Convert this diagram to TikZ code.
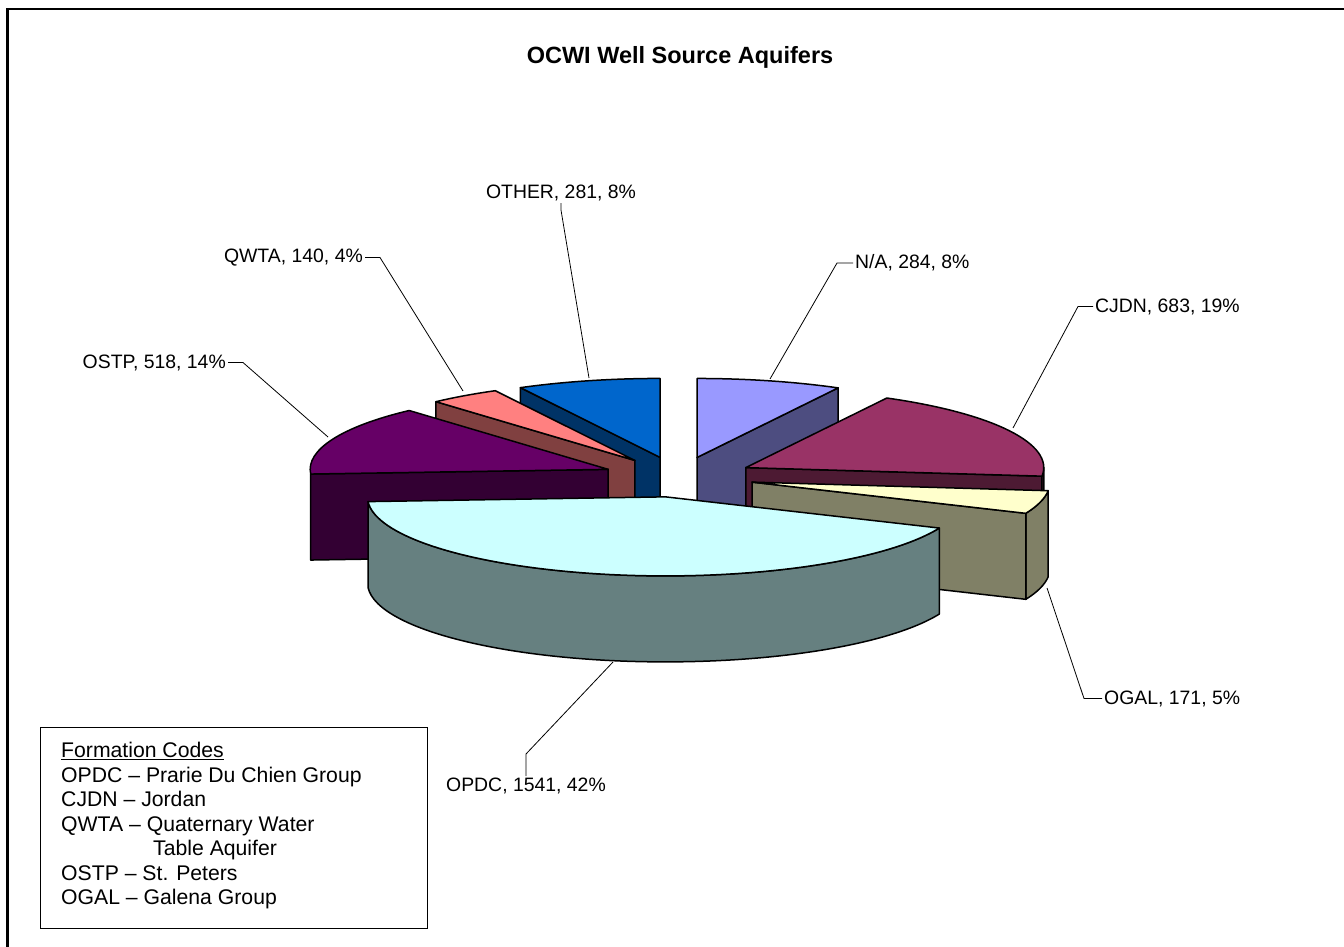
\documentclass[tikz,border=0pt]{standalone}
\usepackage{fontspec}
\setmainfont{Liberation Sans}
\usepackage{tikz}
\usetikzlibrary{positioning}
% slice colours: top face and the darker side face
\definecolor{naTop}{HTML}{9999FF}
\definecolor{naSide}{HTML}{4D4D80}
\definecolor{cjTop}{HTML}{993366}
\definecolor{cjSide}{HTML}{4D1A33}
\definecolor{ogTop}{HTML}{FFFFCC}
\definecolor{ogSide}{HTML}{808066}
\definecolor{opTop}{HTML}{CCFFFF}
\definecolor{opSide}{HTML}{668080}
\definecolor{osTop}{HTML}{660066}
\definecolor{osSide}{HTML}{330033}
\definecolor{qwTop}{HTML}{FF8080}
\definecolor{qwSide}{HTML}{804040}
\definecolor{otTop}{HTML}{0066CC}
\definecolor{otSide}{HTML}{003366}

\begin{document}
\begin{tikzpicture}[
  x=1pt, y=-1pt,
  x radius=298, y radius=79,
  every node/.style={font=\fontsize{19.4}{23}\selectfont, inner sep=0pt},
  face/.style={draw=black, line width=1.5pt, line join=round},
  leader/.style={draw=black, line width=0.8pt},
  lbl/.style={inner sep=2pt},
  explode/.style={shift={({678.5+76*sin(#1)},{477-20.15*cos(#1)})}},
  ttl/.style={font=\bfseries\fontsize{23.5}{28}\selectfont},
  codebox/.style={draw=black, line width=1.2pt, minimum width=387pt, minimum height=201pt},
  codes/.style={font=\fontsize{21.2}{24.5}\selectfont, align=left}
]
\useasboundingbox (0,0) rectangle (1344,947);
\clip (0,0) rectangle (1344,947);

% outer frame (runs off the right and bottom)
\draw[line width=2.5pt] (7.5,9) rectangle (1360,960);

\node[ttl] (title) at (680,57) {OCWI Well Source Aquifers};

% --- back slices
% N/A
\begin{scope}[explode=14.13]
  \filldraw[face, fill=naSide] (0,0) -- (141.1,-69.6) -- (141.1,16.4) -- (0,86) -- cycle;
  \filldraw[face, fill=naTop] (0,0) -- (0,-79) arc[start angle=-90, end angle=-61.74] -- cycle;
\end{scope}
% OTHER
\begin{scope}[explode=346.02]
  \filldraw[face, fill=otSide] (0,0) -- (-139.7,-69.8) -- (-139.7,16.2) -- (0,86) -- cycle;
  \filldraw[face, fill=otTop] (0,0) -- (-139.7,-69.8) arc[start angle=242.04, end angle=270] -- cycle;
\end{scope}
% QWTA
\begin{scope}[explode=325.07]
  \filldraw[face, fill=qwSide] (0,0) -- (-199.0,-58.8) -- (-199.0,27.2) -- (0,86) -- cycle;
  \filldraw[face, fill=qwTop] (0,0) -- (-199.0,-58.8) arc[start angle=228.11, end angle=242.04] -- cycle;
\end{scope}
% OSTP
\begin{scope}[explode=292.34]
  \filldraw[face, fill=osSide] (0,0) -- (-297.5,4.7) -- (-297.5,90.7) -- (0,86) -- cycle;
  \filldraw[face, fill=osTop] (0,0) -- (-297.5,4.7) arc[start angle=176.57, end angle=228.11] -- cycle;
\end{scope}

% --- right hand slices
% CJDN
\begin{scope}[explode=62.24]
  \filldraw[face, fill=cjSide] (0,0) -- (296.2,8.6) -- (296.2,94.6) -- (0,86) -- cycle;
  \filldraw[face, fill=cjSide] (298,0) arc[start angle=0, end angle=6.22] -- (296.2,94.6) arc[start angle=6.22, end angle=0] -- cycle;
  \filldraw[face, fill=cjTop] (0,0) -- (141.1,-69.6) arc[start angle=-61.74, end angle=6.22] -- cycle;
\end{scope}
% OGAL
\begin{scope}[explode=104.73]
  \filldraw[face, fill=ogSide] (296.2,8.6) arc[start angle=6.22, end angle=23.23] -- ++(0,86) arc[start angle=23.23, end angle=6.22] -- cycle;
  \filldraw[face, fill=ogSide] (0,0) -- (273.9,31.2) -- (273.9,117.2) -- (0,86) -- cycle;
  \filldraw[face, fill=ogTop] (0,0) -- (296.2,8.6) arc[start angle=6.22, end angle=23.23] -- cycle;
\end{scope}

% --- front slice
% OPDC
\begin{scope}[explode=189.90]
  \filldraw[face, fill=opSide] (273.9,31.2) arc[start angle=23.23, end angle=176.57] -- ++(0,86) arc[start angle=176.57, end angle=23.23] -- cycle;
  \filldraw[face, fill=opTop] (0,0) -- (273.9,31.2) arc[start angle=23.23, end angle=176.57] -- cycle;
\end{scope}

% leader ends on the slices
\coordinate (na-tip) at (770,379);
\coordinate (cj-tip) at (1013,428);
\coordinate (og-tip) at (1047,588);
\coordinate (op-tip) at (613,662);
\coordinate (os-tip) at (328,437);
\coordinate (qw-tip) at (463,391);
\coordinate (ot-tip) at (589,378);

% data labels
\node[lbl, anchor=south] (ot-lbl) at (561,203) {OTHER, 281, 8\%};
\node[lbl, anchor=east]  (qw-lbl) at (365,257.5) {QWTA, 140, 4\%};
\node[lbl, anchor=west]  (na-lbl) at (853,263) {N/A, 284, 8\%};
\node[lbl, anchor=west]  (cj-lbl) at (1093,306.5) {CJDN, 683, 19\%};
\node[lbl, anchor=east]  (os-lbl) at (228,362.5) {OSTP, 518, 14\%};
\node[lbl, anchor=west]  (og-lbl) at (1102,698.5) {OGAL, 171, 5\%};
\node[lbl, anchor=north] (op-lbl) at (526,776) {OPDC, 1541, 42\%};

\draw[leader] (ot-lbl.south) -- ++(0,7) -- (ot-tip);
\draw[leader] (qw-lbl.east) -- ++(15,0) -- (qw-tip);
\draw[leader] (na-lbl.west) -- ++(-16,0) -- (na-tip);
\draw[leader] (cj-lbl.west) -- ++(-15,0) -- (cj-tip);
\draw[leader] (os-lbl.east) -- ++(15,0) -- (os-tip);
\draw[leader] (og-lbl.west) -- ++(-18,0) -- (og-tip);
\draw[leader] (op-lbl.north) -- ++(0,-22) -- (op-tip);

% formation code key
\node[codebox, anchor=north west] (key) at (40,727) {};
\node[codes, anchor=north west] (key-text) at (61,742)
  {\underline{Formation Codes}\\
   OPDC -- Prarie Du Chien Group\\
   CJDN -- Jordan\\
   QWTA -- Quaternary Water\\
   \hspace*{92pt}Table Aquifer\\
   OSTP -- St. Peters\\
   OGAL -- Galena Group};

\end{tikzpicture}
\end{document}
